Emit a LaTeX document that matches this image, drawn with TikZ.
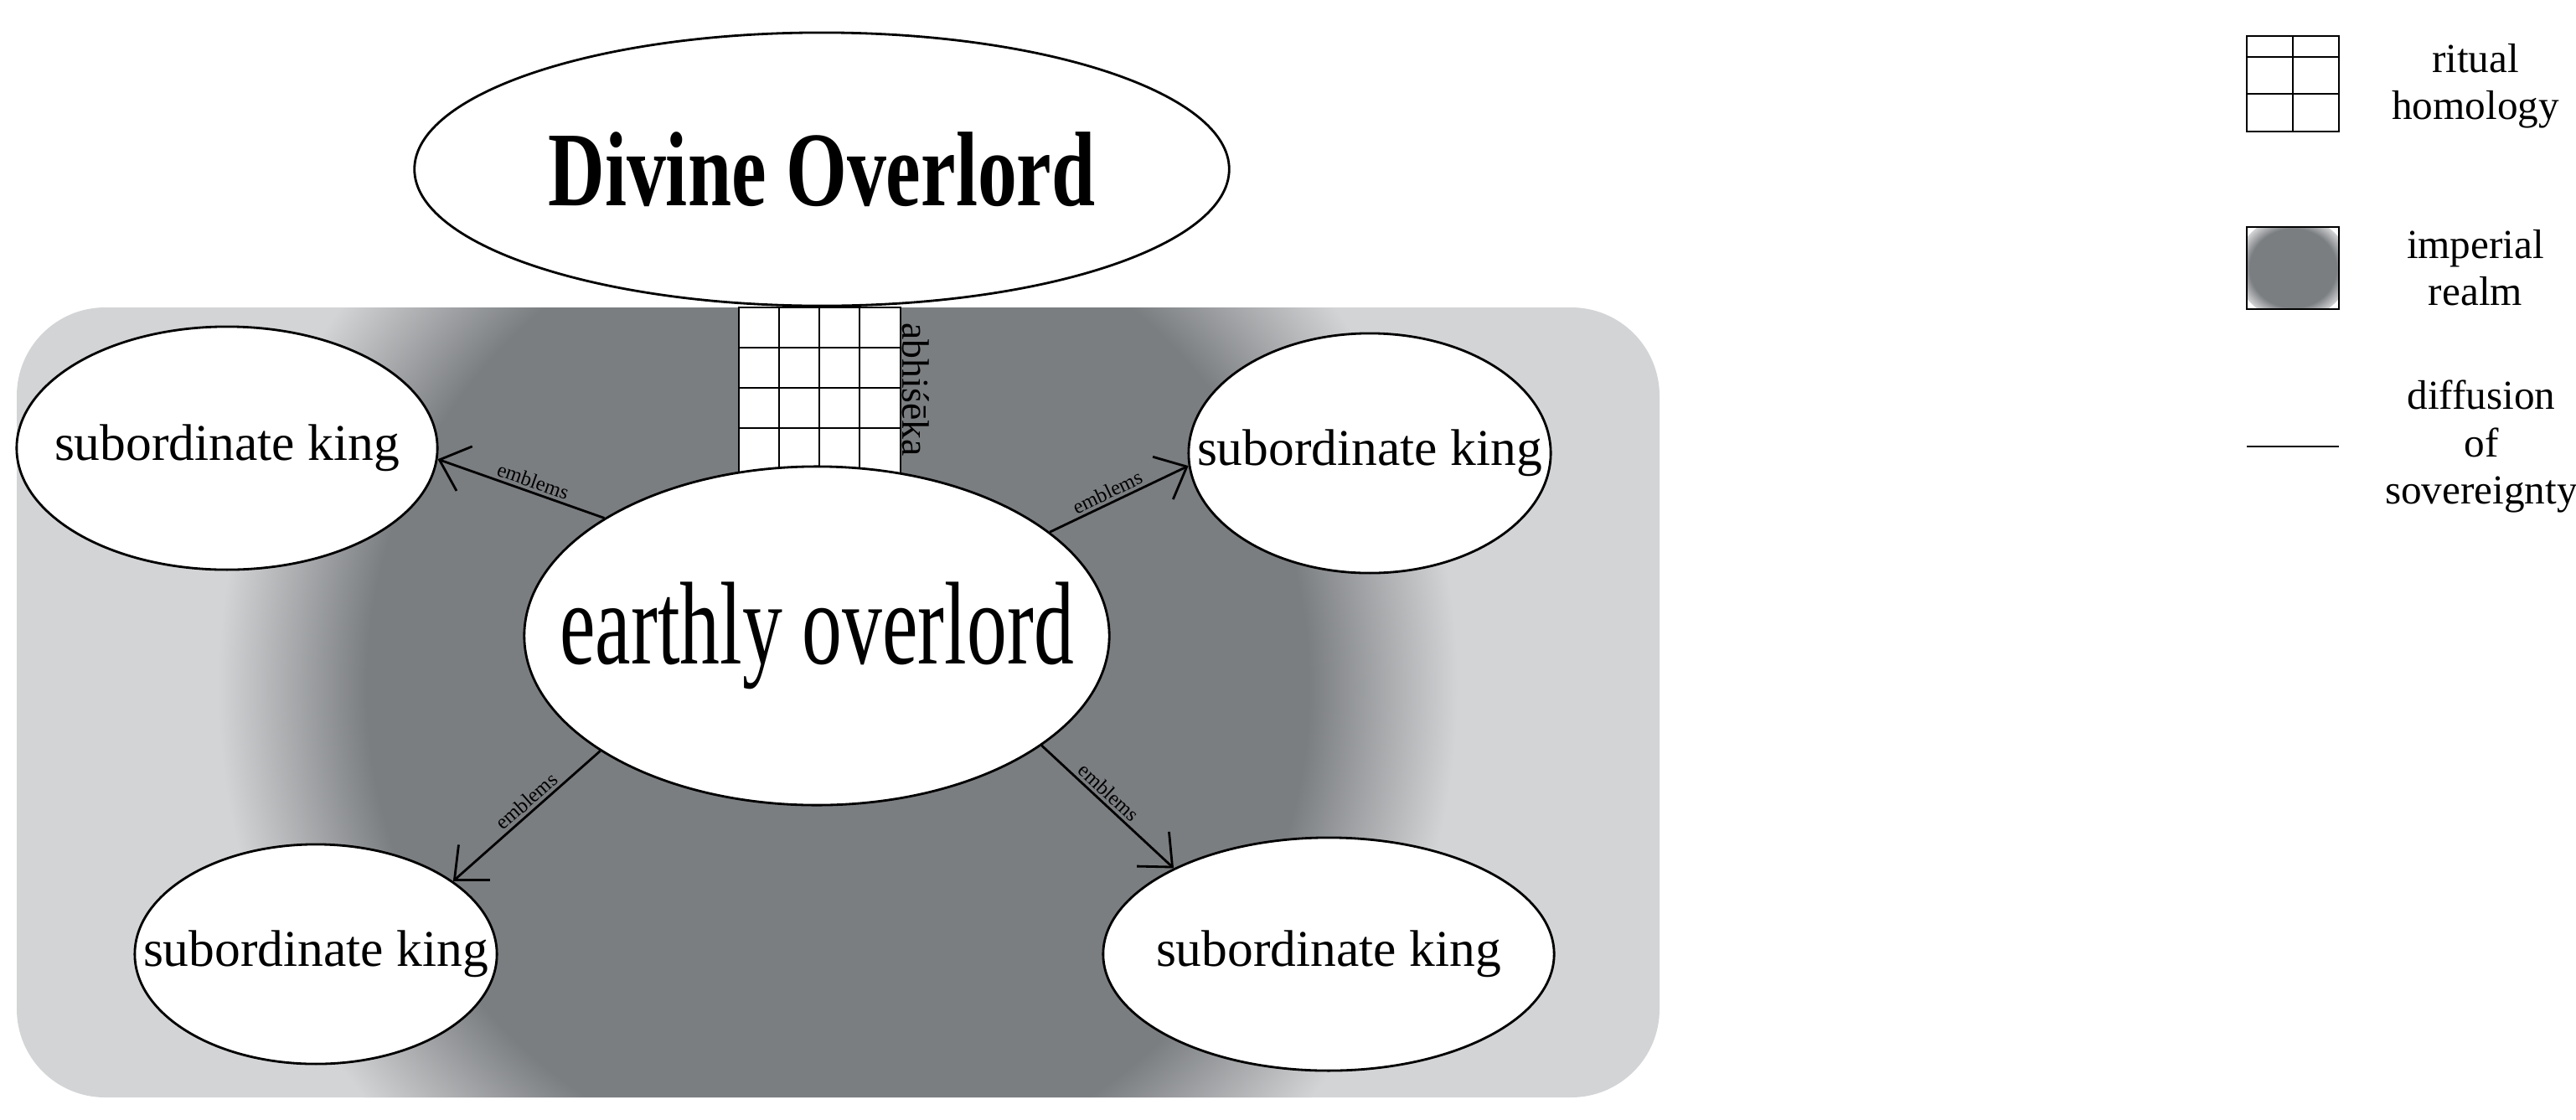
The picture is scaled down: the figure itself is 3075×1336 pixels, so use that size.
\documentclass[tikz,border=0pt]{standalone}
\usepackage{fontspec}
\setmainfont{Liberation Serif}
\usetikzlibrary{arrows.meta,shapes.geometric}
\definecolor{realmlight}{HTML}{D3D4D6}
\definecolor{realmdark}{HTML}{7B7E81}
\pgfdeclareradialshading{realm}{\pgfpoint{0bp}{0bp}}{color(0bp)=(realmdark); color(19bp)=(realmdark); color(25bp)=(realmlight); color(50bp)=(realmlight)}
\tikzset{
  oval/.style={ellipse,draw,thick,fill=white,inner sep=0pt},
  kingtext/.style={font=\fontsize{17.5}{19}\selectfont},
  emblem/.style={draw,thick,-{Straight Barb[length=9pt,width=16pt]}},
  tag/.style={font=\fontsize{7}{8}\selectfont,sloped,above,inner sep=1pt},
  key/.style={align=center,font=\fontsize{14}{16}\selectfont}
}

\begin{document}
\begin{tikzpicture}[x=0.01cm,y=-0.01cm]
\useasboundingbox (0,0) rectangle (3075,1336);
% imperial realm
\fill [realmlight,rounded corners=30] (20,367) rectangle (1981,1310);
\begin{scope}
\clip [rounded corners=30] (20,367) rectangle (1981,1310);
\shade [shading=realm] (1000,820) ellipse (740 and 760);
\end{scope}
% ritual homology column
\draw [thick,fill=white] (882,367) rectangle (1075,570);
\foreach \x in {930,978,1026} \draw (\x,367) -- (\x,570);
\foreach \y in {415,463,511} \draw (882,\y) -- (1075,\y);
\node [rotate=-90,font=\fontsize{13}{14}\selectfont] at (1093,465) {abhiśēka};
% overlords
\node (divine) [oval,minimum width=9.72cm,minimum height=3.26cm] at (981,202) {};
\node [font=\fontsize{36}{38}\bfseries] at (divine) {\scalebox{0.74}[1]{Divine Overlord}};
\node (earthly) [oval,minimum width=6.98cm,minimum height=4.04cm] at (975,759) {};
\node [font=\fontsize{40}{42}\selectfont] at (earthly) {\scalebox{0.68}[1]{earthly overlord}};
% subordinate kings
\node (kingA) [oval,minimum width=5.02cm,minimum height=2.9cm] at (271,535) {};
\node (kingB) [oval,minimum width=4.32cm,minimum height=2.86cm] at (1635,541) {};
\node (kingC) [oval,minimum width=4.32cm,minimum height=2.62cm] at (377,1139) {};
\node (kingD) [oval,minimum width=5.38cm,minimum height=2.78cm] at (1586,1139) {};
\node [kingtext] at (kingA) {subordinate king};
\node [kingtext] at (kingB) {subordinate king};
\node [kingtext] at (kingC) {subordinate king};
\node [kingtext] at (kingD) {subordinate king};
\draw [emblem] (earthly.151) -- node [tag,pos=0.45] {emblems} (kingA.-3);
\draw [emblem] (earthly.24) -- node [tag,pos=0.45] {emblems} (kingB.-176);
\draw [emblem] (earthly.-152) -- node [tag,pos=0.45] {emblems} (kingC.28);
\draw [emblem] (earthly.-26) -- node [tag,pos=0.45] {emblems} (kingD.151);
% legend
\draw [thick] (2682,43) rectangle (2792,157);
\draw (2737,43) -- (2737,157) (2682,68) -- (2792,68) (2682,112) -- (2792,112);
\node [key] at (2955,103) {ritual\\homology};
\begin{scope}
\clip (2682,271) rectangle (2792,369);
\shade [shading=realm] (2737,320) ellipse (68 and 62);
\end{scope}
\draw [thick] (2682,271) rectangle (2792,369);
\node [key] at (2955,320) {imperial\\realm};
\draw [thick] (2682,533) -- (2792,533);
\node [key] at (2962,533) {diffusion\\of\\sovereignty};
\end{tikzpicture}
\end{document}
